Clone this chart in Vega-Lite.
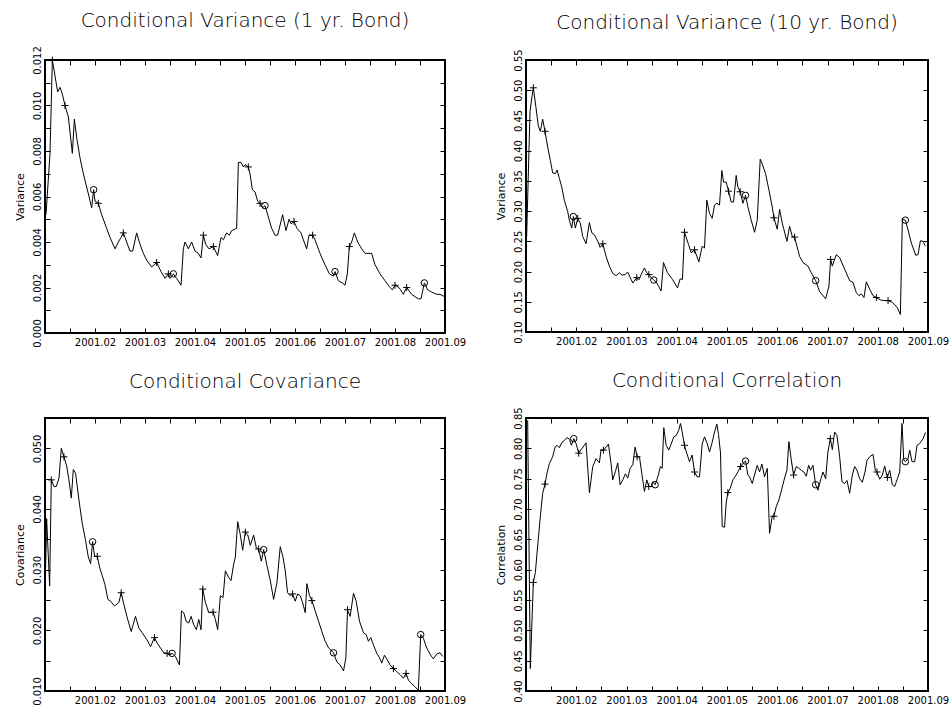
{
  "$schema": "https://vega.github.io/schema/vega-lite/v6.json",
  "background": "white",
  "padding": {"left": 12, "top": 9, "right": 2, "bottom": 2},
  "bounds": "flush",
  "columns": 2,
  "spacing": {"column": 81, "row": 85},
  "config": {
    "view": {"stroke": "black", "strokeWidth": 2},
    "axis": {"grid": false, "domain": false, "tickColor": "black", "tickSize": -5, "tickWidth": 1,
      "labelFont": "DejaVu Sans", "labelFontSize": 10, "labelColor": "black",
      "titleFont": "DejaVu Sans", "titleFontSize": 11, "titleFontWeight": "normal", "titleColor": "black",
      "labelFlush": false, "labelOverlap": false, "labelBound": false},
    "title": {"font": "DejaVu Sans", "fontSize": 20, "fontWeight": 200, "color": "black", "anchor": "middle", "frame": "group", "offset": 15}
  },
  "datasets": {
    "var1": [
      {"t":1.02,"v":0.0052},{"t":1.10,"v":0.0079},{"t":1.147,"v":0.0120,"m":"+"},{"t":1.253,"v":0.0106},{"t":1.30,"v":0.0108},
      {"t":1.347,"v":0.0105},{"t":1.40,"v":0.0100,"m":"+"},{"t":1.467,"v":0.0095},{"t":1.547,"v":0.0079},{"t":1.587,"v":0.0094},
      {"t":1.633,"v":0.0086},{"t":1.70,"v":0.0077},{"t":1.767,"v":0.0070},{"t":1.88,"v":0.0060},{"t":1.933,"v":0.0055},
      {"t":1.973,"v":0.0063,"m":"o"},{"t":2.0,"v":0.0058},{"t":2.067,"v":0.0057,"m":"+"},{"t":2.133,"v":0.0052},{"t":2.233,"v":0.0046},
      {"t":2.30,"v":0.0042},{"t":2.40,"v":0.0037},{"t":2.467,"v":0.0040},{"t":2.52,"v":0.0042},{"t":2.567,"v":0.0044,"m":"+"},
      {"t":2.633,"v":0.0040},{"t":2.70,"v":0.0036},{"t":2.753,"v":0.0036},{"t":2.833,"v":0.0044},{"t":2.90,"v":0.0039},
      {"t":2.967,"v":0.0035},{"t":3.033,"v":0.0032},{"t":3.133,"v":0.0029},{"t":3.233,"v":0.0031,"m":"+"},{"t":3.32,"v":0.0027},
      {"t":3.40,"v":0.0024},{"t":3.467,"v":0.0026,"m":"+"},{"t":3.50,"v":0.0024},{"t":3.567,"v":0.0026,"m":"o"},{"t":3.633,"v":0.0024},
      {"t":3.72,"v":0.0021},{"t":3.767,"v":0.0037},{"t":3.80,"v":0.0040},{"t":3.867,"v":0.0037},{"t":3.933,"v":0.0040},
      {"t":4.0,"v":0.0036},{"t":4.067,"v":0.0035},{"t":4.12,"v":0.0033},{"t":4.167,"v":0.0043,"m":"+"},{"t":4.213,"v":0.0039},
      {"t":4.28,"v":0.0037},{"t":4.367,"v":0.0038,"m":"+"},{"t":4.453,"v":0.0034},{"t":4.52,"v":0.0042},{"t":4.567,"v":0.0041},
      {"t":4.633,"v":0.0044},{"t":4.687,"v":0.0043},{"t":4.733,"v":0.0045},{"t":4.833,"v":0.0046},{"t":4.867,"v":0.0075},
      {"t":4.92,"v":0.0075},{"t":4.967,"v":0.0073},{"t":5.0,"v":0.0074},{"t":5.067,"v":0.0073,"m":"+"},{"t":5.10,"v":0.0070},
      {"t":5.147,"v":0.0063},{"t":5.20,"v":0.0062},{"t":5.253,"v":0.0058},{"t":5.30,"v":0.0057,"m":"+"},{"t":5.353,"v":0.0055},
      {"t":5.40,"v":0.0056,"m":"o"},{"t":5.467,"v":0.0051},{"t":5.533,"v":0.0046},{"t":5.60,"v":0.0043},{"t":5.653,"v":0.0043},
      {"t":5.753,"v":0.0052},{"t":5.82,"v":0.0045},{"t":5.88,"v":0.0050},{"t":5.92,"v":0.0048},{"t":5.98,"v":0.0049,"m":"+"},
      {"t":6.04,"v":0.0046},{"t":6.12,"v":0.0044},{"t":6.167,"v":0.0041},{"t":6.233,"v":0.0037},{"t":6.28,"v":0.0043},
      {"t":6.353,"v":0.0043,"m":"+"},{"t":6.40,"v":0.0041},{"t":6.50,"v":0.0035},{"t":6.60,"v":0.0030},{"t":6.687,"v":0.0026},
      {"t":6.767,"v":0.0025},{"t":6.80,"v":0.0027,"m":"o"},{"t":6.867,"v":0.0023},{"t":6.947,"v":0.0022},{"t":7.0,"v":0.0021},
      {"t":7.047,"v":0.0026},{"t":7.087,"v":0.0038,"m":"+"},{"t":7.133,"v":0.0040},{"t":7.187,"v":0.0044},{"t":7.253,"v":0.0040},
      {"t":7.333,"v":0.0037},{"t":7.40,"v":0.0035},{"t":7.433,"v":0.0035},{"t":7.533,"v":0.0035},{"t":7.60,"v":0.0030},
      {"t":7.70,"v":0.0026},{"t":7.80,"v":0.0023},{"t":7.90,"v":0.0020},{"t":7.947,"v":0.0019},{"t":8.0,"v":0.0021,"m":"+"},
      {"t":8.08,"v":0.0020},{"t":8.167,"v":0.0017},{"t":8.233,"v":0.0020,"m":"+"},{"t":8.333,"v":0.0017},{"t":8.467,"v":0.0015},
      {"t":8.52,"v":0.0015},{"t":8.587,"v":0.0022,"m":"o"},{"t":8.653,"v":0.0019},{"t":8.733,"v":0.0018},{"t":8.833,"v":0.0017},
      {"t":8.90,"v":0.0017},{"t":8.987,"v":0.0016}
    ],
    "var10": [
      {"t":1.013,"v":0.258},{"t":1.08,"v":0.465},{"t":1.12,"v":0.49},{"t":1.146,"v":0.504,"m":"+"},{"t":1.199,"v":0.471},
      {"t":1.245,"v":0.441},{"t":1.285,"v":0.432},{"t":1.332,"v":0.452},{"t":1.378,"v":0.432,"m":"+"},{"t":1.432,"v":0.406},
      {"t":1.484,"v":0.384},{"t":1.532,"v":0.363},{"t":1.584,"v":0.362},{"t":1.618,"v":0.368},{"t":1.664,"v":0.354},
      {"t":1.711,"v":0.340},{"t":1.763,"v":0.318},{"t":1.83,"v":0.299},{"t":1.863,"v":0.285},{"t":1.91,"v":0.272},
      {"t":1.942,"v":0.291,"m":"o"},{"t":1.982,"v":0.272},{"t":2.029,"v":0.288,"m":"+"},{"t":2.082,"v":0.28},{"t":2.129,"v":0.258},
      {"t":2.195,"v":0.246},{"t":2.261,"v":0.281},{"t":2.309,"v":0.264},{"t":2.361,"v":0.261},{"t":2.428,"v":0.25},
      {"t":2.474,"v":0.240},{"t":2.528,"v":0.246,"m":"+"},{"t":2.594,"v":0.225},{"t":2.66,"v":0.209},{"t":2.726,"v":0.197},
      {"t":2.793,"v":0.193},{"t":2.859,"v":0.198},{"t":2.912,"v":0.194},{"t":2.972,"v":0.195},{"t":3.025,"v":0.199},
      {"t":3.092,"v":0.187},{"t":3.125,"v":0.181},{"t":3.205,"v":0.19,"m":"+"},{"t":3.244,"v":0.186},{"t":3.291,"v":0.195},
      {"t":3.357,"v":0.206},{"t":3.404,"v":0.198},{"t":3.444,"v":0.195,"m":"+"},{"t":3.49,"v":0.19},{"t":3.543,"v":0.186,"m":"o"},
      {"t":3.596,"v":0.182},{"t":3.689,"v":0.168},{"t":3.736,"v":0.215},{"t":3.815,"v":0.198},{"t":3.915,"v":0.187},
      {"t":4.015,"v":0.173},{"t":4.068,"v":0.188},{"t":4.114,"v":0.187},{"t":4.154,"v":0.265,"m":"+"},{"t":4.234,"v":0.245},
      {"t":4.287,"v":0.231},{"t":4.353,"v":0.236,"m":"+"},{"t":4.44,"v":0.216},{"t":4.506,"v":0.242},{"t":4.552,"v":0.239},
      {"t":4.599,"v":0.318},{"t":4.652,"v":0.296},{"t":4.705,"v":0.288},{"t":4.752,"v":0.31},{"t":4.798,"v":0.313},
      {"t":4.851,"v":0.31},{"t":4.898,"v":0.367},{"t":4.931,"v":0.348},{"t":4.984,"v":0.348},{"t":5.031,"v":0.333,"m":"+"},
      {"t":5.084,"v":0.315},{"t":5.13,"v":0.315},{"t":5.183,"v":0.359},{"t":5.216,"v":0.34},{"t":5.263,"v":0.332,"m":"+"},
      {"t":5.316,"v":0.313},{"t":5.369,"v":0.326,"m":"o"},{"t":5.416,"v":0.307},{"t":5.482,"v":0.285},{"t":5.548,"v":0.265},
      {"t":5.602,"v":0.285},{"t":5.661,"v":0.386},{"t":5.701,"v":0.378},{"t":5.768,"v":0.362},{"t":5.834,"v":0.335},
      {"t":5.9,"v":0.307},{"t":5.934,"v":0.289,"m":"+"},{"t":6.0,"v":0.27},{"t":6.047,"v":0.303},{"t":6.1,"v":0.28},
      {"t":6.193,"v":0.25},{"t":6.246,"v":0.275},{"t":6.299,"v":0.258},{"t":6.345,"v":0.257,"m":"+"},{"t":6.392,"v":0.242},
      {"t":6.445,"v":0.225},{"t":6.511,"v":0.215},{"t":6.611,"v":0.209},{"t":6.677,"v":0.198},{"t":6.764,"v":0.185,"m":"o"},
      {"t":6.843,"v":0.167},{"t":6.963,"v":0.155},{"t":7.029,"v":0.176},{"t":7.062,"v":0.22,"m":"+"},{"t":7.096,"v":0.209},
      {"t":7.175,"v":0.228},{"t":7.242,"v":0.223},{"t":7.341,"v":0.204},{"t":7.441,"v":0.185},{"t":7.507,"v":0.182},
      {"t":7.574,"v":0.165},{"t":7.627,"v":0.16},{"t":7.673,"v":0.163},{"t":7.726,"v":0.157},{"t":7.773,"v":0.183},
      {"t":7.839,"v":0.171},{"t":7.906,"v":0.16},{"t":7.972,"v":0.157,"m":"+"},{"t":8.052,"v":0.153},{"t":8.138,"v":0.152},
      {"t":8.205,"v":0.152,"m":"+"},{"t":8.291,"v":0.149},{"t":8.384,"v":0.141},{"t":8.45,"v":0.129},{"t":8.49,"v":0.287},
      {"t":8.55,"v":0.285,"m":"o"},{"t":8.603,"v":0.269},{"t":8.669,"v":0.247},{"t":8.756,"v":0.227},{"t":8.802,"v":0.228},
      {"t":8.849,"v":0.251},{"t":8.902,"v":0.25},{"t":8.948,"v":0.242}
    ],
    "cov": [
      {"t":1.0,"v":0.0254},{"t":1.033,"v":0.0384},{"t":1.093,"v":0.0273},{"t":1.126,"v":0.0448,"m":"+"},{"t":1.18,"v":0.0437},
      {"t":1.226,"v":0.0437},{"t":1.28,"v":0.0451},{"t":1.326,"v":0.0500},{"t":1.379,"v":0.0486,"m":"+"},{"t":1.433,"v":0.0471},
      {"t":1.479,"v":0.0448},{"t":1.526,"v":0.0418},{"t":1.566,"v":0.0465},{"t":1.612,"v":0.0459},{"t":1.679,"v":0.0415},
      {"t":1.745,"v":0.0376},{"t":1.812,"v":0.0348},{"t":1.865,"v":0.0321},{"t":1.912,"v":0.0310},{"t":1.952,"v":0.0346,"m":"o"},
      {"t":1.992,"v":0.0322},{"t":2.045,"v":0.0322,"m":"+"},{"t":2.092,"v":0.0304},{"t":2.145,"v":0.0290},{"t":2.198,"v":0.0276},
      {"t":2.258,"v":0.0251},{"t":2.311,"v":0.0248},{"t":2.391,"v":0.0240},{"t":2.478,"v":0.0246},{"t":2.524,"v":0.0262,"m":"+"},
      {"t":2.577,"v":0.0243},{"t":2.644,"v":0.0221},{"t":2.724,"v":0.0198},{"t":2.81,"v":0.0223},{"t":2.877,"v":0.0204},
      {"t":2.943,"v":0.0196},{"t":3.043,"v":0.0184},{"t":3.11,"v":0.0173},{"t":3.19,"v":0.0188,"m":"+"},{"t":3.243,"v":0.0179},
      {"t":3.309,"v":0.0171},{"t":3.376,"v":0.0163},{"t":3.443,"v":0.0162,"m":"+"},{"t":3.489,"v":0.0159},{"t":3.542,"v":0.0162,"m":"o"},
      {"t":3.609,"v":0.0157},{"t":3.689,"v":0.0143},{"t":3.729,"v":0.0232},{"t":3.775,"v":0.0229},{"t":3.822,"v":0.0215},
      {"t":3.875,"v":0.0212},{"t":3.922,"v":0.0223},{"t":3.975,"v":0.0209},{"t":4.028,"v":0.0201},{"t":4.075,"v":0.0218},
      {"t":4.121,"v":0.0201},{"t":4.155,"v":0.0268,"m":"+"},{"t":4.208,"v":0.0246},{"t":4.275,"v":0.0229},{"t":4.361,"v":0.0230,"m":"+"},
      {"t":4.408,"v":0.0218},{"t":4.454,"v":0.0201},{"t":4.507,"v":0.0257},{"t":4.561,"v":0.0254},{"t":4.607,"v":0.0298},
      {"t":4.674,"v":0.0287},{"t":4.72,"v":0.0282},{"t":4.774,"v":0.0309},{"t":4.807,"v":0.0321},{"t":4.854,"v":0.0379},
      {"t":4.907,"v":0.0357},{"t":4.953,"v":0.0332},{"t":5.007,"v":0.0362,"m":"+"},{"t":5.053,"v":0.0358},{"t":5.106,"v":0.0340},
      {"t":5.173,"v":0.0357},{"t":5.226,"v":0.0336},{"t":5.273,"v":0.0334,"m":"+"},{"t":5.326,"v":0.0314},{"t":5.373,"v":0.0333,"m":"o"},
      {"t":5.439,"v":0.0307},{"t":5.506,"v":0.0282},{"t":5.572,"v":0.0251},{"t":5.639,"v":0.0279},{"t":5.705,"v":0.0338},
      {"t":5.759,"v":0.0321},{"t":5.805,"v":0.0298},{"t":5.852,"v":0.0262},{"t":5.905,"v":0.0257},{"t":5.952,"v":0.0260,"m":"+"},
      {"t":6.005,"v":0.0248},{"t":6.052,"v":0.0260},{"t":6.105,"v":0.0257},{"t":6.151,"v":0.0246},{"t":6.205,"v":0.0229},
      {"t":6.238,"v":0.0277},{"t":6.291,"v":0.0257},{"t":6.338,"v":0.0249,"m":"+"},{"t":6.404,"v":0.0232},{"t":6.471,"v":0.0215},
      {"t":6.537,"v":0.0198},{"t":6.604,"v":0.0182},{"t":6.671,"v":0.0171},{"t":6.77,"v":0.0163,"m":"o"},{"t":6.837,"v":0.0148},
      {"t":6.903,"v":0.0143},{"t":6.97,"v":0.0133},{"t":7.017,"v":0.0154},{"t":7.05,"v":0.0234,"m":"+"},{"t":7.103,"v":0.0223},
      {"t":7.17,"v":0.0261},{"t":7.223,"v":0.0248},{"t":7.29,"v":0.0215},{"t":7.369,"v":0.0196},{"t":7.423,"v":0.0193},
      {"t":7.469,"v":0.0182},{"t":7.516,"v":0.0188},{"t":7.569,"v":0.0176},{"t":7.636,"v":0.0162},{"t":7.689,"v":0.0155},
      {"t":7.735,"v":0.0146},{"t":7.789,"v":0.0159},{"t":7.835,"v":0.0153},{"t":7.902,"v":0.0143},{"t":7.968,"v":0.0137,"m":"+"},
      {"t":8.035,"v":0.0132},{"t":8.101,"v":0.0127},{"t":8.168,"v":0.0121},{"t":8.221,"v":0.0129,"m":"+"},{"t":8.268,"v":0.0118},
      {"t":8.334,"v":0.0112},{"t":8.401,"v":0.0107},{"t":8.467,"v":0.0101},{"t":8.514,"v":0.0193,"m":"o"},{"t":8.567,"v":0.0187},
      {"t":8.634,"v":0.0171},{"t":8.714,"v":0.0159},{"t":8.767,"v":0.0153},{"t":8.834,"v":0.0161},{"t":8.9,"v":0.0163},
      {"t":8.953,"v":0.0157}
    ],
    "cor": [
      {"t":1.033,"v":0.846},{"t":1.086,"v":0.437},{"t":1.146,"v":0.579,"m":"+"},{"t":1.186,"v":0.595},{"t":1.232,"v":0.639},
      {"t":1.286,"v":0.688},{"t":1.332,"v":0.726},{"t":1.378,"v":0.741,"m":"+"},{"t":1.418,"v":0.759},{"t":1.465,"v":0.775},
      {"t":1.531,"v":0.786},{"t":1.578,"v":0.802},{"t":1.618,"v":0.805},{"t":1.664,"v":0.801},{"t":1.717,"v":0.81},
      {"t":1.764,"v":0.813},{"t":1.817,"v":0.818},{"t":1.863,"v":0.815},{"t":1.903,"v":0.805},{"t":1.95,"v":0.816,"m":"o"},
      {"t":1.996,"v":0.808},{"t":2.049,"v":0.792,"m":"+"},{"t":2.116,"v":0.80},{"t":2.195,"v":0.809},{"t":2.262,"v":0.727},
      {"t":2.328,"v":0.77},{"t":2.394,"v":0.783},{"t":2.461,"v":0.776},{"t":2.494,"v":0.798},{"t":2.541,"v":0.797,"m":"+"},
      {"t":2.594,"v":0.802},{"t":2.64,"v":0.807},{"t":2.693,"v":0.775},{"t":2.726,"v":0.748},{"t":2.78,"v":0.762},
      {"t":2.826,"v":0.776},{"t":2.873,"v":0.74},{"t":2.926,"v":0.748},{"t":2.979,"v":0.758},{"t":3.025,"v":0.751},
      {"t":3.072,"v":0.767},{"t":3.125,"v":0.773},{"t":3.171,"v":0.802},{"t":3.211,"v":0.786,"m":"+"},{"t":3.258,"v":0.786},
      {"t":3.304,"v":0.759},{"t":3.357,"v":0.729},{"t":3.404,"v":0.748},{"t":3.444,"v":0.737,"m":"+"},{"t":3.49,"v":0.737},
      {"t":3.523,"v":0.745},{"t":3.57,"v":0.74,"m":"o"},{"t":3.623,"v":0.753},{"t":3.676,"v":0.77},{"t":3.709,"v":0.767},
      {"t":3.742,"v":0.834},{"t":3.789,"v":0.805},{"t":3.842,"v":0.797},{"t":3.888,"v":0.807},{"t":3.942,"v":0.819},
      {"t":3.988,"v":0.821},{"t":4.035,"v":0.829},{"t":4.074,"v":0.841},{"t":4.108,"v":0.827},{"t":4.154,"v":0.805,"m":"+"},
      {"t":4.187,"v":0.795},{"t":4.254,"v":0.778},{"t":4.307,"v":0.789},{"t":4.353,"v":0.761,"m":"+"},{"t":4.406,"v":0.753},
      {"t":4.453,"v":0.753},{"t":4.506,"v":0.807},{"t":4.552,"v":0.819},{"t":4.606,"v":0.808},{"t":4.652,"v":0.794},
      {"t":4.705,"v":0.81},{"t":4.752,"v":0.827},{"t":4.798,"v":0.84},{"t":4.831,"v":0.823},{"t":4.871,"v":0.792},
      {"t":4.904,"v":0.671},{"t":4.951,"v":0.67},{"t":4.984,"v":0.71},{"t":5.017,"v":0.727,"m":"+"},{"t":5.064,"v":0.734},
      {"t":5.117,"v":0.748},{"t":5.183,"v":0.756},{"t":5.236,"v":0.764},{"t":5.27,"v":0.77,"m":"+"},{"t":5.316,"v":0.775},
      {"t":5.369,"v":0.779,"m":"o"},{"t":5.416,"v":0.756},{"t":5.449,"v":0.753},{"t":5.502,"v":0.742},{"t":5.548,"v":0.756},
      {"t":5.602,"v":0.772},{"t":5.648,"v":0.761},{"t":5.695,"v":0.774},{"t":5.748,"v":0.753},{"t":5.801,"v":0.767},
      {"t":5.847,"v":0.66},{"t":5.9,"v":0.688},{"t":5.934,"v":0.688,"m":"+"},{"t":5.98,"v":0.704},{"t":6.033,"v":0.715},
      {"t":6.093,"v":0.734},{"t":6.146,"v":0.751},{"t":6.193,"v":0.764},{"t":6.232,"v":0.811},{"t":6.279,"v":0.781},
      {"t":6.325,"v":0.756,"m":"+"},{"t":6.379,"v":0.77},{"t":6.432,"v":0.767},{"t":6.478,"v":0.764},{"t":6.531,"v":0.761},
      {"t":6.578,"v":0.754},{"t":6.624,"v":0.772},{"t":6.664,"v":0.764},{"t":6.71,"v":0.772},{"t":6.764,"v":0.74,"m":"o"},
      {"t":6.81,"v":0.731},{"t":6.863,"v":0.748},{"t":6.91,"v":0.761},{"t":6.963,"v":0.75},{"t":7.009,"v":0.794},
      {"t":7.056,"v":0.816,"m":"+"},{"t":7.096,"v":0.798},{"t":7.142,"v":0.827},{"t":7.189,"v":0.821},{"t":7.242,"v":0.786},
      {"t":7.288,"v":0.745},{"t":7.341,"v":0.742},{"t":7.388,"v":0.747},{"t":7.441,"v":0.726},{"t":7.494,"v":0.756},
      {"t":7.541,"v":0.77},{"t":7.587,"v":0.764},{"t":7.64,"v":0.75},{"t":7.693,"v":0.744},{"t":7.746,"v":0.761},
      {"t":7.786,"v":0.78},{"t":7.839,"v":0.786},{"t":7.906,"v":0.79},{"t":7.952,"v":0.764},{"t":7.985,"v":0.761,"m":"+"},
      {"t":8.039,"v":0.749},{"t":8.092,"v":0.756},{"t":8.138,"v":0.771},{"t":8.191,"v":0.752,"m":"+"},{"t":8.238,"v":0.764},
      {"t":8.291,"v":0.74},{"t":8.337,"v":0.737},{"t":8.391,"v":0.75},{"t":8.437,"v":0.761},{"t":8.483,"v":0.841},
      {"t":8.517,"v":0.781},{"t":8.55,"v":0.778,"m":"o"},{"t":8.603,"v":0.783},{"t":8.636,"v":0.797},{"t":8.683,"v":0.778},
      {"t":8.736,"v":0.778},{"t":8.782,"v":0.805},{"t":8.835,"v":0.808},{"t":8.902,"v":0.816},{"t":8.948,"v":0.826}
    ]
  },
  "concat": [
    {
      "title": {"text": "Conditional Variance (1 yr. Bond)", "offset": 15},
      "width": 400, "height": 273,
      "data": {"name": "var1"},
      "resolve": {"axis": {"x": "independent", "y": "independent"}},
      "layer": [
        {"mark": {"type": "line", "color": "black", "strokeWidth": 1},
         "encoding": {
           "x": {"field": "t", "type": "quantitative", "scale": {"domain": [1, 9], "nice": false, "zero": false},
             "axis": {"orient": "bottom", "values": [1,1.5,2,2.5,3,3.5,4,4.5,5,5.5,6,6.5,7,7.5,8,8.5,9], "labelExpr": "datum.value % 1 == 0 && datum.value > 1 ? '2001.0' + datum.value : ''", "labelPadding": 9, "title": null}},
           "y": {"field": "v", "type": "quantitative", "scale": {"domain": [0, 0.012], "nice": false, "zero": false},
             "axis": {"orient": "left", "values": [0,0.001,0.002,0.003,0.004,0.005,0.006,0.007,0.008,0.009,0.010,0.011,0.012], "labelExpr": "round(datum.value*1000) % 2 == 0 ? format(datum.value, '.3f') : ''", "labelAngle": 270, "labelAlign": "center", "labelBaseline": "bottom", "labelPadding": 8, "title": "Variance", "titlePadding": 7}}
         }},
        {"transform": [{"filter": "datum.m == '+'"}],
         "mark": {"type": "point", "shape": "M-1,0H1M0,-1V1", "size": 49, "filled": false, "color": "black", "strokeWidth": 1, "opacity": 1},
         "encoding": {
           "x": {"field": "t", "type": "quantitative", "axis": {"orient": "top", "values": [1,1.5,2,2.5,3,3.5,4,4.5,5,5.5,6,6.5,7,7.5,8,8.5,9], "labels": false, "title": null}},
           "y": {"field": "v", "type": "quantitative", "axis": {"orient": "right", "values": [0,0.001,0.002,0.003,0.004,0.005,0.006,0.007,0.008,0.009,0.010,0.011,0.012], "labels": false, "title": null}}
         }},
        {"transform": [{"filter": "datum.m == 'o'"}],
         "mark": {"type": "point", "shape": "circle", "size": 42, "filled": false, "color": "black", "strokeWidth": 1, "opacity": 1},
         "encoding": {
           "x": {"field": "t", "type": "quantitative", "axis": null},
           "y": {"field": "v", "type": "quantitative", "axis": null}
         }}
      ]
    },
    {
      "title": {"text": "Conditional Variance (10 yr. Bond)", "offset": 16},
      "width": 402, "height": 272,
      "data": {"name": "var10"},
      "resolve": {"axis": {"x": "independent", "y": "independent"}},
      "layer": [
        {"mark": {"type": "line", "color": "black", "strokeWidth": 1},
         "encoding": {
           "x": {"field": "t", "type": "quantitative", "scale": {"domain": [1, 9], "nice": false, "zero": false},
             "axis": {"orient": "bottom", "values": [1,1.5,2,2.5,3,3.5,4,4.5,5,5.5,6,6.5,7,7.5,8,8.5,9], "labelExpr": "datum.value % 1 == 0 && datum.value > 1 ? '2001.0' + datum.value : ''", "labelPadding": 9, "title": null}},
           "y": {"field": "v", "type": "quantitative", "scale": {"domain": [0.10, 0.55], "nice": false, "zero": false},
             "axis": {"orient": "left", "values": [0.10,0.15,0.20,0.25,0.30,0.35,0.40,0.45,0.50,0.55], "format": ".2f", "labelAngle": 270, "labelAlign": "center", "labelBaseline": "bottom", "labelPadding": 8, "title": "Variance", "titlePadding": 7}}
         }},
        {"transform": [{"filter": "datum.m == '+'"}],
         "mark": {"type": "point", "shape": "M-1,0H1M0,-1V1", "size": 49, "filled": false, "color": "black", "strokeWidth": 1, "opacity": 1},
         "encoding": {
           "x": {"field": "t", "type": "quantitative", "axis": {"orient": "top", "values": [1,1.5,2,2.5,3,3.5,4,4.5,5,5.5,6,6.5,7,7.5,8,8.5,9], "labels": false, "title": null}},
           "y": {"field": "v", "type": "quantitative", "axis": {"orient": "right", "values": [0.10,0.15,0.20,0.25,0.30,0.35,0.40,0.45,0.50,0.55], "labels": false, "title": null}}
         }},
        {"transform": [{"filter": "datum.m == 'o'"}],
         "mark": {"type": "point", "shape": "circle", "size": 42, "filled": false, "color": "black", "strokeWidth": 1, "opacity": 1},
         "encoding": {
           "x": {"field": "t", "type": "quantitative", "axis": null},
           "y": {"field": "v", "type": "quantitative", "axis": null}
         }}
      ]
    },
    {
      "title": {"text": "Conditional Covariance", "offset": 26},
      "width": 400, "height": 273,
      "data": {"name": "cov"},
      "resolve": {"axis": {"x": "independent", "y": "independent"}},
      "layer": [
        {"mark": {"type": "line", "color": "black", "strokeWidth": 1},
         "encoding": {
           "x": {"field": "t", "type": "quantitative", "scale": {"domain": [1, 9], "nice": false, "zero": false},
             "axis": {"orient": "bottom", "values": [1,1.5,2,2.5,3,3.5,4,4.5,5,5.5,6,6.5,7,7.5,8,8.5,9], "labelExpr": "datum.value % 1 == 0 && datum.value > 1 ? '2001.0' + datum.value : ''", "labelPadding": 9, "title": null}},
           "y": {"field": "v", "type": "quantitative", "scale": {"domain": [0.010, 0.055], "nice": false, "zero": false},
             "axis": {"orient": "left", "values": [0.010,0.015,0.020,0.025,0.030,0.035,0.040,0.045,0.050,0.055], "labelExpr": "round(datum.value*1000) % 10 == 0 ? format(datum.value, '.3f') : ''", "labelAngle": 270, "labelAlign": "center", "labelBaseline": "bottom", "labelPadding": 8, "title": "Covariance", "titlePadding": 7}}
         }},
        {"transform": [{"filter": "datum.m == '+'"}],
         "mark": {"type": "point", "shape": "M-1,0H1M0,-1V1", "size": 49, "filled": false, "color": "black", "strokeWidth": 1, "opacity": 1},
         "encoding": {
           "x": {"field": "t", "type": "quantitative", "axis": {"orient": "top", "values": [1,1.5,2,2.5,3,3.5,4,4.5,5,5.5,6,6.5,7,7.5,8,8.5,9], "labels": false, "title": null}},
           "y": {"field": "v", "type": "quantitative", "axis": {"orient": "right", "values": [0.010,0.015,0.020,0.025,0.030,0.035,0.040,0.045,0.050,0.055], "labels": false, "title": null}}
         }},
        {"transform": [{"filter": "datum.m == 'o'"}],
         "mark": {"type": "point", "shape": "circle", "size": 42, "filled": false, "color": "black", "strokeWidth": 1, "opacity": 1},
         "encoding": {
           "x": {"field": "t", "type": "quantitative", "axis": null},
           "y": {"field": "v", "type": "quantitative", "axis": null}
         }}
      ]
    },
    {
      "title": {"text": "Conditional Correlation", "offset": 16},
      "width": 402, "height": 273,
      "data": {"name": "cor"},
      "resolve": {"axis": {"x": "independent", "y": "independent"}},
      "layer": [
        {"mark": {"type": "line", "color": "black", "strokeWidth": 1},
         "encoding": {
           "x": {"field": "t", "type": "quantitative", "scale": {"domain": [1, 9], "nice": false, "zero": false},
             "axis": {"orient": "bottom", "values": [1,1.5,2,2.5,3,3.5,4,4.5,5,5.5,6,6.5,7,7.5,8,8.5,9], "labelExpr": "datum.value % 1 == 0 && datum.value > 1 ? '2001.0' + datum.value : ''", "labelPadding": 9, "title": null}},
           "y": {"field": "v", "type": "quantitative", "scale": {"domain": [0.40, 0.85], "nice": false, "zero": false},
             "axis": {"orient": "left", "values": [0.40,0.45,0.50,0.55,0.60,0.65,0.70,0.75,0.80,0.85], "format": ".2f", "labelAngle": 270, "labelAlign": "center", "labelBaseline": "bottom", "labelPadding": 8, "title": "Correlation", "titlePadding": 7}}
         }},
        {"transform": [{"filter": "datum.m == '+'"}],
         "mark": {"type": "point", "shape": "M-1,0H1M0,-1V1", "size": 49, "filled": false, "color": "black", "strokeWidth": 1, "opacity": 1},
         "encoding": {
           "x": {"field": "t", "type": "quantitative", "axis": {"orient": "top", "values": [1,1.5,2,2.5,3,3.5,4,4.5,5,5.5,6,6.5,7,7.5,8,8.5,9], "labels": false, "title": null}},
           "y": {"field": "v", "type": "quantitative", "axis": {"orient": "right", "values": [0.40,0.45,0.50,0.55,0.60,0.65,0.70,0.75,0.80,0.85], "labels": false, "title": null}}
         }},
        {"transform": [{"filter": "datum.m == 'o'"}],
         "mark": {"type": "point", "shape": "circle", "size": 42, "filled": false, "color": "black", "strokeWidth": 1, "opacity": 1},
         "encoding": {
           "x": {"field": "t", "type": "quantitative", "axis": null},
           "y": {"field": "v", "type": "quantitative", "axis": null}
         }}
      ]
    }
  ]
}
